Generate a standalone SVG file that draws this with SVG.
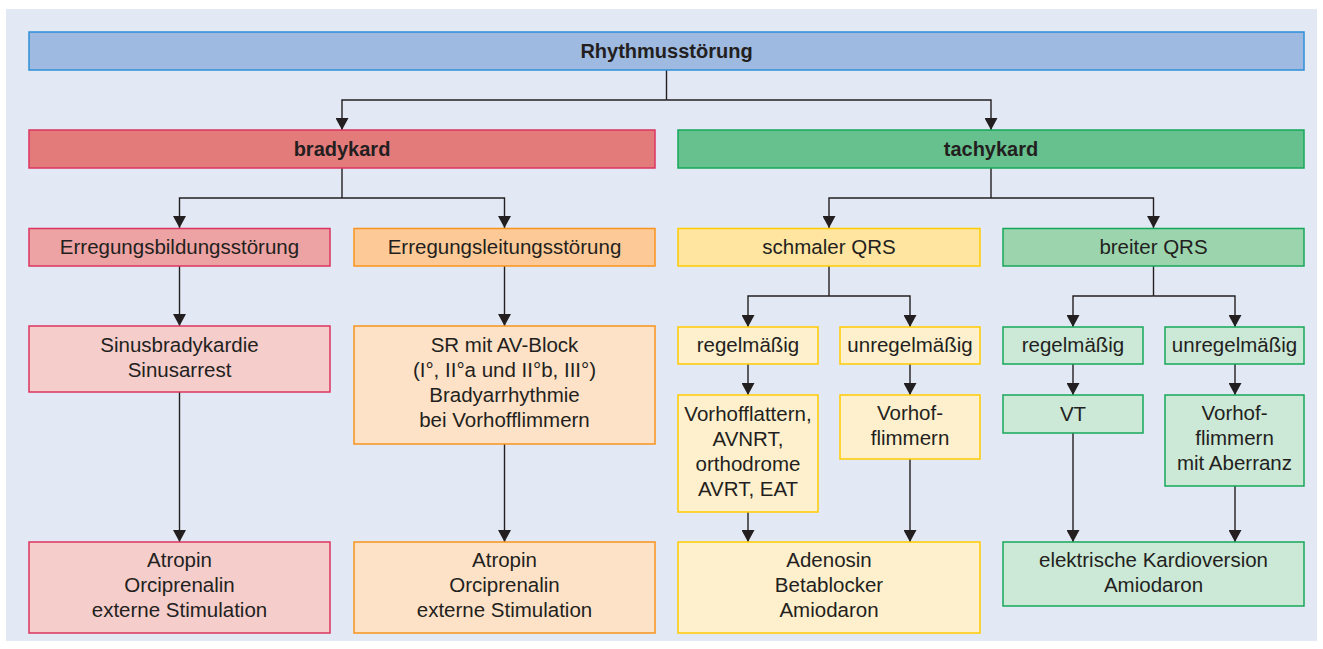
<svg xmlns="http://www.w3.org/2000/svg" width="1323" height="649" viewBox="0 0 1323 649">
<defs>
<style>
text{font-family:"Liberation Sans",Arial,sans-serif;font-size:20.5px;fill:#231f20;text-anchor:middle}
.b{font-weight:bold;font-size:20px}
rect{stroke-width:1.5}
.blue{fill:#9fbae0;stroke:#2f8fd8}
.red1{fill:#e47b7b;stroke:#db3460}
.red2{fill:#eda3a3;stroke:#db3460}
.red3{fill:#f5cdcb;stroke:#db3460}
.or2{fill:#fdca97;stroke:#f7941d}
.or3{fill:#fee2c7;stroke:#f7941d}
.ye2{fill:#ffe5a0;stroke:#ffcc00}
.ye3{fill:#fff0cd;stroke:#ffcc00}
.gr1{fill:#67c18e;stroke:#16a85a}
.gr2{fill:#9cd4ae;stroke:#16a85a}
.gr3{fill:#cce8d6;stroke:#16a85a}
#connectors path{fill:none;stroke:#231f20;stroke-width:1.4}
#connectors path.a{marker-end:url(#arr)}
</style>
<marker id="arr" viewBox="0 0 12 13" refX="12" refY="6.5" markerWidth="12" markerHeight="13" markerUnits="userSpaceOnUse" orient="auto">
<path d="M0,0 L12,6.5 L0,13 z" fill="#231f20"/>
</marker>
</defs>
<rect x="0" y="0" width="1323" height="649" fill="#ffffff" style="stroke:none"/>
<rect x="6" y="9" width="1311" height="632" fill="#e3e9f4" style="stroke:none"/>

<g id="connectors">
<path d="M666.5,70 V100"/>
<path class="a" d="M666.5,100 H342 V130"/>
<path class="a" d="M666.5,100 H991 V130"/>
<path d="M342,168 V198"/>
<path class="a" d="M342,198 H179.5 V228"/>
<path class="a" d="M342,198 H504.5 V228"/>
<path d="M991,168 V198"/>
<path class="a" d="M991,198 H829 V228"/>
<path class="a" d="M991,198 H1153.5 V228"/>
<path d="M829,266 V296"/>
<path class="a" d="M829,296 H748 V327"/>
<path class="a" d="M829,296 H910 V327"/>
<path d="M1153.5,266 V296"/>
<path class="a" d="M1153.5,296 H1073 V327"/>
<path class="a" d="M1153.5,296 H1235 V327"/>
<path class="a" d="M179.5,266 V326"/>
<path class="a" d="M179.5,392 V542"/>
<path class="a" d="M504.5,266 V326"/>
<path class="a" d="M504.5,444 V542"/>
<path class="a" d="M748,364 V395"/>
<path class="a" d="M748,512 V542"/>
<path class="a" d="M910,364 V395"/>
<path class="a" d="M910,459 V542"/>
<path class="a" d="M1073,364 V395"/>
<path class="a" d="M1073,433 V542"/>
<path class="a" d="M1235,364 V395"/>
<path class="a" d="M1235,486 V542"/>
</g>

<g id="n-rhythmus"><rect class="blue" x="29" y="32" width="1275" height="38"/><text class="b" x="666.5" y="58">Rhythmusstörung</text></g>
<g id="n-brady"><rect class="red1" x="29" y="130" width="626" height="38"/><text class="b" x="342" y="156">bradykard</text></g>
<g id="n-tachy"><rect class="gr1" x="678" y="130" width="626" height="38"/><text class="b" x="991" y="156">tachykard</text></g>

<g id="n-eb"><rect class="red2" x="29" y="228.5" width="301" height="37.5"/><text x="179.5" y="253.5">Erregungsbildungsstörung</text></g>
<g id="n-el"><rect class="or2" x="354" y="228.5" width="301" height="37.5"/><text x="504.5" y="253.5">Erregungsleitungsstörung</text></g>
<g id="n-schmal"><rect class="ye2" x="678" y="228.5" width="302" height="37.5"/><text x="829" y="253.5">schmaler QRS</text></g>
<g id="n-breit"><rect class="gr2" x="1003" y="228.5" width="301" height="37.5"/><text x="1153.5" y="253.5">breiter QRS</text></g>

<g id="n-sinus"><rect class="red3" x="29" y="326" width="301" height="66"/>
<text x="179.5" y="352">Sinusbradykardie</text><text x="179.5" y="377">Sinusarrest</text></g>
<g id="n-sr"><rect class="or3" x="354" y="326" width="301" height="118"/>
<text x="504.5" y="352">SR mit AV-Block</text><text x="504.5" y="377">(I°, II°a und II°b, III°)</text><text x="504.5" y="402">Bradyarrhythmie</text><text x="504.5" y="427">bei Vorhofflimmern</text></g>

<g id="n-reg-y"><rect class="ye3" x="678" y="327" width="140" height="37"/><text x="748" y="352">regelmäßig</text></g>
<g id="n-unreg-y"><rect class="ye3" x="840" y="327" width="140" height="37"/><text x="910" y="352">unregelmäßig</text></g>
<g id="n-reg-g"><rect class="gr3" x="1003" y="327" width="140" height="37"/><text x="1073" y="352">regelmäßig</text></g>
<g id="n-unreg-g"><rect class="gr3" x="1165" y="327" width="139" height="37"/><text x="1234.5" y="352">unregelmäßig</text></g>

<g id="n-flattern"><rect class="ye3" x="678" y="395" width="140" height="117"/>
<text x="748" y="420.5">Vorhofflattern,</text><text x="748" y="445.5">AVNRT,</text><text x="748" y="470.5">orthodrome</text><text x="748" y="495.5">AVRT, EAT</text></g>
<g id="n-flimmern-y"><rect class="ye3" x="840" y="395" width="140" height="64"/>
<text x="910" y="420">Vorhof-</text><text x="910" y="445">flimmern</text></g>
<g id="n-vt"><rect class="gr3" x="1003" y="395" width="140" height="38"/><text x="1073" y="420.5">VT</text></g>
<g id="n-flimmern-g"><rect class="gr3" x="1165" y="395" width="139" height="91"/>
<text x="1234.5" y="420">Vorhof-</text><text x="1234.5" y="445">flimmern</text><text x="1234.5" y="470">mit Aberranz</text></g>

<g id="n-atropin1"><rect class="red3" x="29" y="542" width="301" height="91"/>
<text x="179.5" y="567">Atropin</text><text x="179.5" y="592">Orciprenalin</text><text x="179.5" y="617">externe Stimulation</text></g>
<g id="n-atropin2"><rect class="or3" x="354" y="542" width="301" height="91"/>
<text x="504.5" y="567">Atropin</text><text x="504.5" y="592">Orciprenalin</text><text x="504.5" y="617">externe Stimulation</text></g>
<g id="n-adenosin"><rect class="ye3" x="678" y="542" width="302" height="91"/>
<text x="829" y="567">Adenosin</text><text x="829" y="592">Betablocker</text><text x="829" y="617">Amiodaron</text></g>
<g id="n-kardioversion"><rect class="gr3" x="1003" y="542" width="301" height="64"/>
<text x="1153.5" y="567">elektrische Kardioversion</text><text x="1153.5" y="592">Amiodaron</text></g>
</svg>
